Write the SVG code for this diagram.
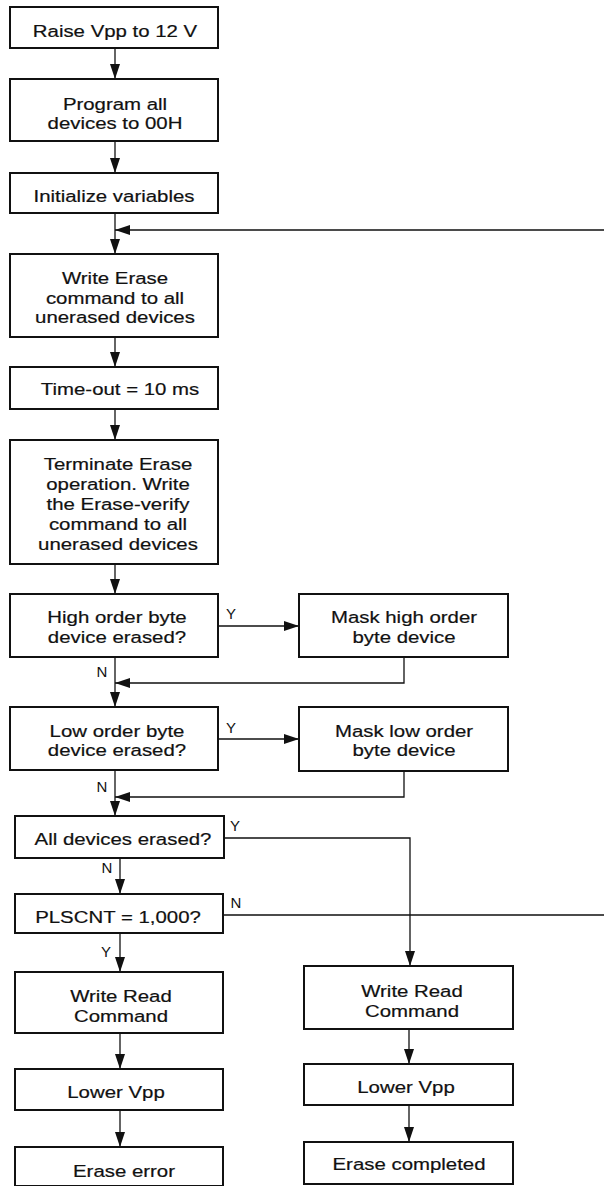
<svg xmlns="http://www.w3.org/2000/svg" width="604" height="1186" viewBox="0 0 604 1186">
<style>
.box{fill:#fff;stroke:#111;stroke-width:2}
.t{font-family:"Liberation Sans",Arial,sans-serif;font-size:17px;fill:#111;text-anchor:middle;stroke:#111;stroke-width:0.2}
.lbl{font-family:"Liberation Sans",Arial,sans-serif;font-size:15px;fill:#111;text-anchor:middle}
.c{fill:none;stroke:#111;stroke-width:1.3}
</style>
<defs>
<marker id="ah" markerUnits="userSpaceOnUse" markerWidth="15" markerHeight="10" refX="15" refY="5" orient="auto">
<path d="M0,0 L15,5 L0,10 z" fill="#111"/>
</marker>
</defs>
<rect width="604" height="1186" fill="#fff"/>
<g id="connectors">
<path class="c" d="M115,48 V79" marker-end="url(#ah)"/>
<path class="c" d="M115,141 V173" marker-end="url(#ah)"/>
<path class="c" d="M115,213 V254" marker-end="url(#ah)"/>
<path class="c" d="M223,915 H620 V230 H115" marker-end="url(#ah)"/>
<path class="c" d="M115,337 V367" marker-end="url(#ah)"/>
<path class="c" d="M115,409 V440" marker-end="url(#ah)"/>
<path class="c" d="M115,564 V594" marker-end="url(#ah)"/>
<path class="c" d="M218,626 H299" marker-end="url(#ah)"/>
<path class="c" d="M404,657 V683 H115" marker-end="url(#ah)"/>
<path class="c" d="M115,657 V707" marker-end="url(#ah)"/>
<path class="c" d="M218,739 H299" marker-end="url(#ah)"/>
<path class="c" d="M404,771 V797 H115" marker-end="url(#ah)"/>
<path class="c" d="M115,770 V816" marker-end="url(#ah)"/>
<path class="c" d="M224,838 H410 V966" marker-end="url(#ah)"/>
<path class="c" d="M120,858 V894" marker-end="url(#ah)"/>
<path class="c" d="M120,933 V972" marker-end="url(#ah)"/>
<path class="c" d="M120,1033 V1069" marker-end="url(#ah)"/>
<path class="c" d="M120,1110 V1147" marker-end="url(#ah)"/>
<path class="c" d="M409,1029 V1064" marker-end="url(#ah)"/>
<path class="c" d="M409,1105 V1142" marker-end="url(#ah)"/>
<text class="lbl" x="231" y="619">Y</text>
<text class="lbl" x="102" y="677">N</text>
<text class="lbl" x="231" y="733">Y</text>
<text class="lbl" x="102" y="792">N</text>
<text class="lbl" x="235" y="831">Y</text>
<text class="lbl" x="107" y="873">N</text>
<text class="lbl" x="236" y="908">N</text>
<text class="lbl" x="106" y="957">Y</text>
</g>
<g id="n1">
<rect class="box" x="10" y="7" width="208" height="41"/>
<text class="t" transform="translate(115 37) scale(1.2 1)">Raise Vpp to 12 V</text>
</g>
<g id="n2">
<rect class="box" x="10" y="79" width="208" height="62"/>
<text class="t" transform="translate(115 110) scale(1.2 1)"><tspan x="0">Program all</tspan><tspan x="0" dy="19.5">devices to 00H</tspan></text>
</g>
<g id="n3">
<rect class="box" x="10" y="173" width="208" height="40"/>
<text class="t" transform="translate(114 202) scale(1.2 1)">Initialize variables</text>
</g>
<g id="n4">
<rect class="box" x="10" y="254" width="208" height="83"/>
<text class="t" transform="translate(115 284) scale(1.2 1)"><tspan x="0">Write Erase</tspan><tspan x="0" dy="20">command to all</tspan><tspan x="0" dy="19.5">unerased devices</tspan></text>
</g>
<g id="n5">
<rect class="box" x="10" y="367" width="208" height="42"/>
<text class="t" transform="translate(120 395) scale(1.2 1)">Time-out = 10 ms</text>
</g>
<g id="n6">
<rect class="box" x="10" y="440" width="208" height="124"/>
<text class="t" transform="translate(118 470) scale(1.2 1)"><tspan x="0">Terminate Erase</tspan><tspan x="0" dy="20">operation. Write</tspan><tspan x="0" dy="20">the Erase-verify</tspan><tspan x="0" dy="20">command to all</tspan><tspan x="0" dy="20">unerased devices</tspan></text>
</g>
<g id="n7">
<rect class="box" x="10" y="594" width="208" height="63"/>
<text class="t" transform="translate(117 623) scale(1.2 1)"><tspan x="0">High order byte</tspan><tspan x="0" dy="20">device erased?</tspan></text>
</g>
<g id="n8">
<rect class="box" x="299" y="594" width="209" height="63"/>
<text class="t" transform="translate(404 623) scale(1.2 1)"><tspan x="0">Mask high order</tspan><tspan x="0" dy="20">byte device</tspan></text>
</g>
<g id="n9">
<rect class="box" x="10" y="707" width="208" height="63"/>
<text class="t" transform="translate(117 737) scale(1.2 1)"><tspan x="0">Low order byte</tspan><tspan x="0" dy="19.5">device erased?</tspan></text>
</g>
<g id="n10">
<rect class="box" x="299" y="707" width="209" height="64"/>
<text class="t" transform="translate(404 737) scale(1.2 1)"><tspan x="0">Mask low order</tspan><tspan x="0" dy="19.5">byte device</tspan></text>
</g>
<g id="n11">
<rect class="box" x="15" y="816" width="209" height="42"/>
<text class="t" transform="translate(123 845) scale(1.2 1)">All devices erased?</text>
</g>
<g id="n12">
<rect class="box" x="15" y="894" width="208" height="39"/>
<text class="t" transform="translate(118 923) scale(1.2 1)">PLSCNT = 1,000?</text>
</g>
<g id="n13">
<rect class="box" x="15" y="972" width="208" height="61"/>
<text class="t" transform="translate(121 1002) scale(1.2 1)"><tspan x="0">Write Read</tspan><tspan x="0" dy="20">Command</tspan></text>
</g>
<g id="n14">
<rect class="box" x="15" y="1069" width="208" height="41"/>
<text class="t" transform="translate(116 1098) scale(1.2 1)">Lower Vpp</text>
</g>
<g id="n15">
<rect class="box" x="15" y="1147" width="208" height="39"/>
<text class="t" transform="translate(124 1177) scale(1.2 1)">Erase error</text>
</g>
<g id="n16">
<rect class="box" x="304" y="966" width="209" height="63"/>
<text class="t" transform="translate(412 997) scale(1.2 1)"><tspan x="0">Write Read</tspan><tspan x="0" dy="20">Command</tspan></text>
</g>
<g id="n17">
<rect class="box" x="304" y="1064" width="209" height="41"/>
<text class="t" transform="translate(406 1093) scale(1.2 1)">Lower Vpp</text>
</g>
<g id="n18">
<rect class="box" x="304" y="1142" width="209" height="42"/>
<text class="t" transform="translate(409 1170) scale(1.2 1)">Erase completed</text>
</g>
</svg>
